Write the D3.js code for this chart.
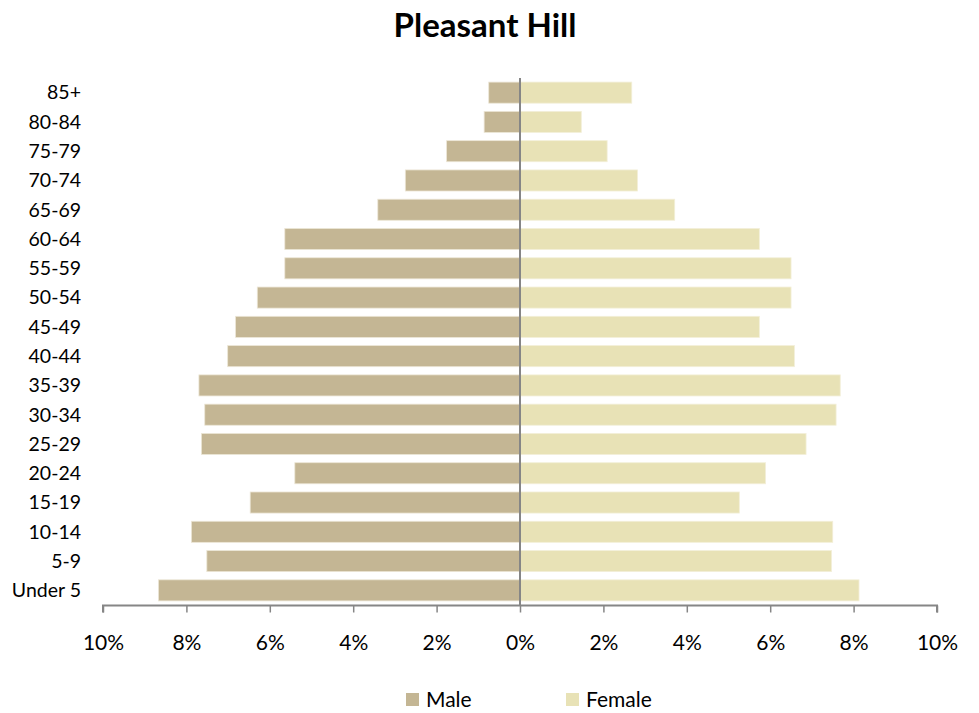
<!DOCTYPE html>
<html>
<head>
<meta charset="utf-8">
<script src="https://cdn.jsdelivr.net/npm/d3@7"></script>
<style>
  body { margin: 0; background: #fff; }
  text { font-family: Lato, "Open Sans", sans-serif; fill: #000; }
</style>
</head>
<body>
<script>
const ages = ["Under 5", "5-9", "10-14", "15-19", "20-24", "25-29", "30-34", "35-39",
  "40-44", "45-49", "50-54", "55-59", "60-64", "65-69", "70-74", "75-79", "80-84", "85+"];
const male = [8.67, 7.51, 7.88, 6.47, 5.40, 7.64, 7.56, 7.70,
  7.01, 6.82, 6.30, 5.64, 5.64, 3.41, 2.75, 1.76, 0.86, 0.75];
const female = [8.13, 7.47, 7.50, 5.26, 5.89, 6.86, 7.58, 7.68,
  6.58, 5.74, 6.50, 6.50, 5.74, 3.71, 2.82, 2.09, 1.47, 2.68];
const ticks = [-10, -8, -6, -4, -2, 0, 2, 4, 6, 8, 10];

const w = 979, h = 713;
const maleColor = "#c4b694", femaleColor = "#e8e2b6";

const svg = d3.select("body").append("svg").attr("width", w).attr("height", h);

const x = d3.scaleLinear().domain([-10, 10]).range([103, 937]);
const y = d3.scaleBand().domain(ages.slice().reverse()).range([78, 605])
  .paddingInner(0.28).paddingOuter(0.14);

// title
svg.append("text").attr("x", 485).attr("y", 37).attr("text-anchor", "middle")
  .style("font-size", "33px").style("font-weight", "bold").text("Pleasant Hill");

// male bars (left)
svg.selectAll("rect.male").data(ages).enter().append("rect")
  .attr("class", "male")
  .attr("x", (d, i) => x(-male[i]))
  .attr("y", d => y(d))
  .attr("width", (d, i) => x(0) - x(-male[i]))
  .attr("height", y.bandwidth())
  .attr("fill", maleColor)
  .attr("stroke", "#ece6d6").attr("stroke-width", 0.8);

// female bars (right)
svg.selectAll("rect.female").data(ages).enter().append("rect")
  .attr("class", "female")
  .attr("x", x(0))
  .attr("y", d => y(d))
  .attr("width", (d, i) => x(female[i]) - x(0))
  .attr("height", y.bandwidth())
  .attr("fill", femaleColor)
  .attr("stroke", "#f3efd9").attr("stroke-width", 0.8);

// age labels
svg.selectAll("text.age").data(ages).enter().append("text")
  .attr("class", "age")
  .attr("x", 81)
  .attr("y", d => y(d) + y.bandwidth() / 2)
  .attr("dy", "0.35em")
  .attr("text-anchor", "end")
  .style("font-size", "19.5px")
  .text(d => d);

// center axis line
svg.append("line").attr("x1", x(0)).attr("x2", x(0)).attr("y1", 78).attr("y2", 606)
  .attr("stroke", "#868686").attr("stroke-width", 2);

// bottom axis
const xAxis = d3.axisBottom(x).tickValues(ticks).tickSize(7).tickPadding(23)
  .tickFormat(d => Math.abs(d) + "%");
const gx = svg.append("g").attr("transform", "translate(0,605.5)").call(xAxis);
gx.select(".domain").attr("stroke", "#868686").attr("stroke-width", 2)
  .attr("d", `M${x(-10)},7V0H${x(10)}V7`);
gx.selectAll(".tick line").attr("stroke", "#868686").attr("stroke-width", 1.5);
gx.selectAll(".tick text").style("font-size", "21px").style("font-family", "Lato, sans-serif")
  .attr("fill", "#000");

// legend
const legend = [{ name: "Male", color: maleColor, x: 406 }, { name: "Female", color: femaleColor, x: 566 }];
const lg = svg.selectAll("g.legend").data(legend).enter().append("g")
  .attr("class", "legend").attr("transform", d => `translate(${d.x},693)`);
lg.append("rect").attr("width", 13).attr("height", 13).attr("fill", d => d.color);
lg.append("text").attr("x", 20).attr("y", 13.5).style("font-size", "21px").text(d => d.name);
</script>
</body>
</html>
